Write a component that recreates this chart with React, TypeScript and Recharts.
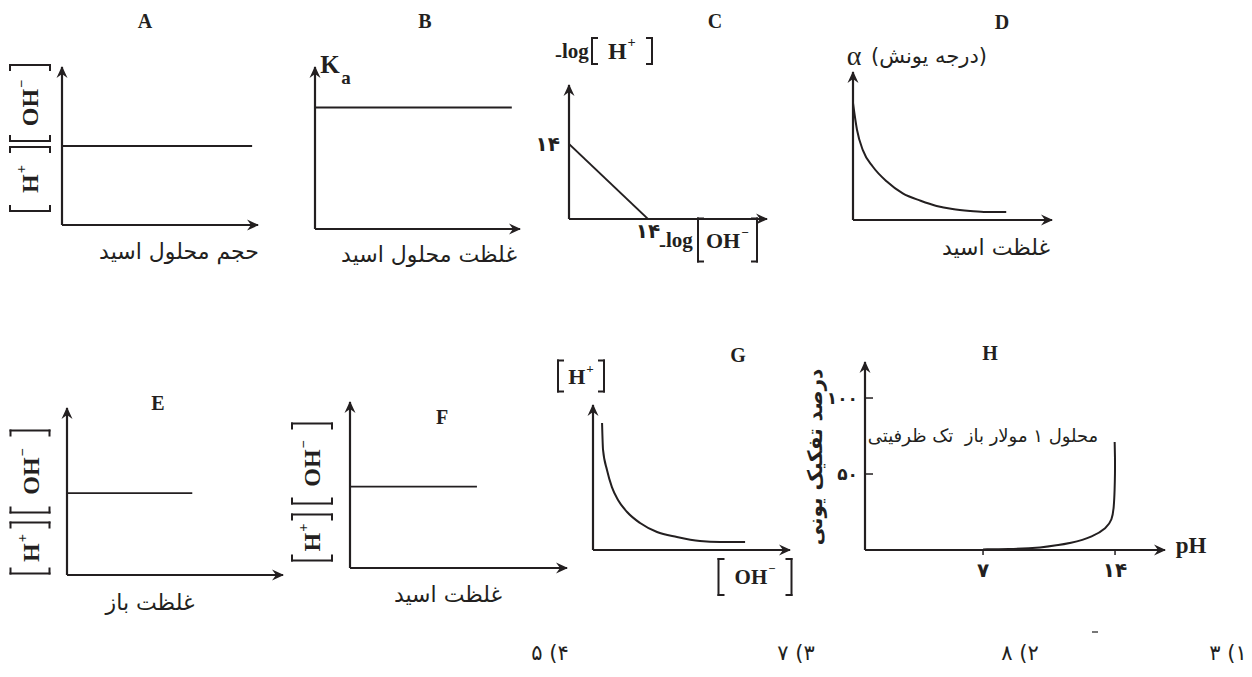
import React from 'react';
import { LineChart, Line, XAxis, YAxis, ReferenceDot } from 'recharts';

const INK = '#231f20';
const SERIF = '"Liberation Serif", "Times New Roman", serif';
const FA = '"DejaVu Sans", sans-serif';

// A: [H+][OH-] against volume of acid solution (flat)
const A_X = [0, 9.7];
const A_Y = [5, 5];
// B: Ka against acid concentration (flat)
const B_X = [0, 9.6];
const B_Y = [7.5, 7.5];
// C: -log[H+] against -log[OH-]
const C_X = [0, 14];
const C_Y = [14, 0];
const C_TICKS = [14];
const C_TICK_LABELS = ['۱۴'];
// D: degree of ionisation against acid concentration
const D_X = [0, 0.2, 0.5, 1.0, 1.7, 2.5, 3.4, 4.2, 5.0, 5.9, 6.7, 7.7];
const D_Y = [7.9, 6.1, 4.7, 3.6, 2.6, 1.8, 1.3, 0.95, 0.74, 0.61, 0.54, 0.54];
// E: [H+][OH-] against base concentration
const E_X = [0, 5.8];
const E_Y = [4.9, 4.9];
// F: [H+][OH-] against acid concentration
const F_X = [0, 5.85];
const F_Y = [4.9, 4.9];
// G: [H+] against [OH-]
const G_X = [0.46, 0.51, 0.71, 0.96, 1.27, 1.73, 2.39, 3.25, 4.26, 5.43, 6.45, 7.72];
const G_Y = [8.76, 6.9, 5.52, 4.34, 3.45, 2.62, 1.86, 1.24, 0.9, 0.62, 0.55, 0.55];
// H: ionisation percent against pH
const H_PH = [7, 8.3, 10, 11.8, 12.8, 13.55, 13.84, 13.94, 13.98, 14, 14, 13.98];
const H_PCT = [0.4, 0.5, 1.3, 4.6, 8.6, 14.5, 19.7, 28, 39.5, 50.7, 61, 71];
const H_X_TICKS = [7, 14];
const H_X_LABELS = ['۷', '۱۴'];
const H_Y_TICKS = [50, 100];
const H_Y_LABELS = ['۵۰', '۱۰۰'];

const ANSWERS = ['۴) ۵', '۳) ۷', '۲) ۸', '۱) ۳'];

const PAD = 18;
const AX = 34;

type Box = { x0: number; y0: number; x1: number; y1: number };
type TickCfg = { values: number[]; labels: string[]; size: number; margin: number; line: boolean; fontSize: number };

const ArrowRight = (p: any) => (
  <path d={`M${p.cx + 1},${p.cy} L${p.cx - 11},${p.cy - 5.5} L${p.cx - 7},${p.cy} L${p.cx - 11},${p.cy + 5.5} Z`} fill={INK} />
);
const ArrowUp = (p: any) => (
  <path d={`M${p.cx},${p.cy - 1} L${p.cx - 5.5},${p.cy + 11} L${p.cx},${p.cy + 7} L${p.cx + 5.5},${p.cy + 11} Z`} fill={INK} />
);

function Sketch({
  box, xs, ys, xDomain, yDomain, curve = 'linear', lineWidth = 1.8, xTicks, yTicks,
}: {
  box: Box; xs: number[]; ys: number[]; xDomain: [number, number]; yDomain: [number, number];
  curve?: any; lineWidth?: number; xTicks?: TickCfg; yTicks?: TickCfg;
}) {
  const w = box.x1 - box.x0 + 2 * PAD + AX;
  const h = box.y1 - box.y0 + 2 * PAD + AX;
  const data = xs.map((x, i) => ({ x, y: ys[i] }));
  const tickStyle = (t?: TickCfg) =>
    t ? { fill: INK, fontSize: t.fontSize, fontFamily: FA, fontWeight: 700 } : false;
  return (
    <div style={{ position: 'absolute', left: box.x0 - PAD - AX, top: box.y0 - PAD }}>
      <LineChart width={w} height={h} data={data} margin={{ top: PAD, right: PAD, bottom: PAD, left: PAD }}>
        <XAxis
          dataKey="x"
          type="number"
          domain={xDomain}
          allowDataOverflow
          height={AX}
          axisLine={{ stroke: INK, strokeWidth: 2.2 }}
          ticks={xTicks?.values}
          interval={0}
          tick={tickStyle(xTicks)}
          tickFormatter={(v: number) => (xTicks ? xTicks.labels[xTicks.values.indexOf(v)] : '')}
          tickLine={xTicks?.line ? { stroke: INK, strokeWidth: 1.5 } : false}
          tickSize={xTicks ? xTicks.size : 0}
          tickMargin={xTicks ? xTicks.margin : 0}
        />
        <YAxis
          type="number"
          domain={yDomain}
          allowDataOverflow
          width={AX}
          axisLine={{ stroke: INK, strokeWidth: 2.2 }}
          ticks={yTicks?.values}
          interval={0}
          tick={tickStyle(yTicks)}
          tickFormatter={(v: number) => (yTicks ? yTicks.labels[yTicks.values.indexOf(v)] : '')}
          tickLine={yTicks?.line ? { stroke: INK, strokeWidth: 1.5 } : false}
          tickSize={yTicks ? yTicks.size : 0}
          tickMargin={yTicks ? yTicks.margin : 0}
        />
        <Line
          dataKey="y"
          type={curve}
          stroke={INK}
          strokeWidth={lineWidth}
          dot={false}
          activeDot={false}
          isAnimationActive={false}
        />
        <ReferenceDot x={xDomain[1]} y={yDomain[0]} r={0} shape={ArrowRight} ifOverflow="visible" />
        <ReferenceDot x={xDomain[0]} y={yDomain[1]} r={0} shape={ArrowUp} ifOverflow="visible" />
      </LineChart>
    </div>
  );
}

function T({
  x, y, children, size = 22, font = FA, bold = false, rot = 0, rtl = false, anchor = 'center',
}: {
  x: number; y: number; children: React.ReactNode; size?: number; font?: string; bold?: boolean;
  rot?: number; rtl?: boolean; anchor?: 'center' | 'left';
}) {
  const tx = anchor === 'left' ? '0' : '-50%';
  return (
    <div
      dir={rtl ? 'rtl' : undefined}
      style={{
        position: 'absolute',
        left: x,
        top: y,
        transform: `translate(${tx},-50%)${rot ? ` rotate(${rot}deg)` : ''}`,
        fontFamily: font,
        fontSize: size,
        fontWeight: bold ? 700 : 400,
        color: INK,
        whiteSpace: 'pre',
        lineHeight: 1,
      }}
    >
      {children}
    </div>
  );
}

// concentration in tall square brackets
function Conc({ ion, sup, w, h, size }: { ion: string; sup: string; w: number; h: number; size: number }) {
  const side = (left: boolean): React.CSSProperties => ({
    width: 7,
    height: h,
    boxSizing: 'border-box',
    borderTop: `2px solid ${INK}`,
    borderBottom: `2px solid ${INK}`,
    borderLeft: left ? `2px solid ${INK}` : 'none',
    borderRight: left ? 'none' : `2px solid ${INK}`,
  });
  return (
    <span style={{ display: 'inline-flex', alignItems: 'center', justifyContent: 'space-between', width: w }}>
      <span style={side(true)} />
      <span style={{ fontFamily: SERIF, fontWeight: 700, fontSize: size, lineHeight: 1, whiteSpace: 'nowrap' }}>
        {ion}
        <span style={{ fontSize: '0.6em', position: 'relative', top: '-0.8em', marginLeft: 1 }}>{sup}</span>
      </span>
      <span style={side(false)} />
    </span>
  );
}

function Pair({ hw, ow, h, size, gap }: { hw: number; ow: number; h: number; size: number; gap: number }) {
  return (
    <span style={{ display: 'inline-flex', alignItems: 'center', gap }}>
      <Conc ion="H" sup="+" w={hw} h={h} size={size} />
      <Conc ion="OH" sup="−" w={ow} h={h} size={size} />
    </span>
  );
}

export default function App() {
  return (
    <div
      style={{
        position: 'absolute',
        left: 0,
        top: 0,
        width: 1252,
        height: 677,
        background: '#ffffff',
        overflow: 'hidden',
      }}
    >
      <Sketch box={{ x0: 62, y0: 67, x1: 258, y1: 225 }} xs={A_X} ys={A_Y} xDomain={[0, 10]} yDomain={[0, 10]} />
      <Sketch box={{ x0: 315, y0: 67, x1: 520, y1: 229 }} xs={B_X} ys={B_Y} xDomain={[0, 10]} yDomain={[0, 10]} />
      <Sketch
        box={{ x0: 569, y0: 85, x1: 767, y1: 219 }}
        xs={C_X}
        ys={C_Y}
        xDomain={[0, 35.1]}
        yDomain={[0, 25]}
        xTicks={{ values: C_TICKS, labels: C_TICK_LABELS, size: 0, margin: 5, line: false, fontSize: 20 }}
        yTicks={{ values: C_TICKS, labels: C_TICK_LABELS, size: 0, margin: 9, line: false, fontSize: 20 }}
      />
      <Sketch box={{ x0: 853, y0: 72, x1: 1052, y1: 220 }} xs={D_X} ys={D_Y} xDomain={[0, 10]} yDomain={[0, 10]} curve="monotone" lineWidth={2} />
      <Sketch box={{ x0: 67, y0: 408, x1: 283, y1: 575 }} xs={E_X} ys={E_Y} xDomain={[0, 10]} yDomain={[0, 10]} />
      <Sketch box={{ x0: 350, y0: 402, x1: 567, y1: 568 }} xs={F_X} ys={F_Y} xDomain={[0, 10]} yDomain={[0, 10]} />
      <Sketch box={{ x0: 593, y0: 405, x1: 790, y1: 550 }} xs={G_X} ys={G_Y} xDomain={[0, 10]} yDomain={[0, 10]} curve="monotone" lineWidth={2} />
      <Sketch
        box={{ x0: 865, y0: 362, x1: 1165, y1: 550 }}
        xs={H_PH}
        ys={H_PCT}
        xDomain={[0.74, 16.65]}
        yDomain={[0, 123.7]}
        curve="basis"
        lineWidth={2}
        xTicks={{ values: H_X_TICKS, labels: H_X_LABELS, size: 5, margin: 8, line: true, fontSize: 20 }}
        yTicks={{ values: H_Y_TICKS, labels: H_Y_LABELS, size: -8, margin: 15, line: true, fontSize: 17 }}
      />

      {/* panel letters */}
      <T x={145} y={21} font={SERIF} bold size={20}>A</T>
      <T x={425} y={21} font={SERIF} bold size={20}>B</T>
      <T x={715} y={21} font={SERIF} bold size={20}>C</T>
      <T x={1002} y={22} font={SERIF} bold size={20}>D</T>
      <T x={158} y={403} font={SERIF} bold size={20}>E</T>
      <T x={442} y={417} font={SERIF} bold size={20}>F</T>
      <T x={738} y={355} font={SERIF} bold size={20}>G</T>
      <T x={990} y={353} font={SERIF} bold size={20}>H</T>

      {/* A */}
      <T x={32} y={138} rot={-90}>
        <Pair hw={66} ow={78} h={42} size={24} gap={4} />
      </T>
      <T x={179} y={252} rtl>حجم محلول اسید</T>

      {/* B */}
      <T x={330} y={64} font={SERIF} bold size={25}>K</T>
      <T x={346} y={77} font={SERIF} bold size={19}>a</T>
      <T x={429} y={255} rtl>غلظت محلول اسید</T>

      {/* C */}
      <T x={555} y={51} anchor="left">
        <span style={{ display: 'inline-flex', alignItems: 'center' }}>
          <span style={{ fontFamily: SERIF, fontWeight: 700, fontSize: 21, position: 'relative', top: 3 }}>-</span>
          <span style={{ fontFamily: SERIF, fontWeight: 700, fontSize: 21, marginRight: 2 }}>log</span>
          <Conc ion="H" sup="+" w={62} h={28} size={24} />
        </span>
      </T>
      <T x={659} y={240} anchor="left">
        <span style={{ display: 'inline-flex', alignItems: 'center' }}>
          <span style={{ fontFamily: SERIF, fontWeight: 700, fontSize: 21, position: 'relative', top: 4 }}>-</span>
          <span style={{ fontFamily: SERIF, fontWeight: 700, fontSize: 21, marginRight: 4 }}>log</span>
          <Conc ion="OH" sup="−" w={61} h={45} size={22} />
        </span>
      </T>

      {/* D */}
      <T x={854} y={56} font={SERIF} size={28}>α</T>
      <T x={929} y={56} size={21} rtl>(درجه یونش)</T>
      <T x={996} y={248} rtl>غلظت اسید</T>

      {/* E */}
      <T x={32} y={502} rot={-90}>
        <Pair hw={53} ow={84} h={41} size={24} gap={8} />
      </T>
      <T x={150} y={603} rtl>غلظت باز</T>

      {/* F */}
      <T x={314} y={492} rot={-90}>
        <Pair hw={48} ow={82} h={42} size={24} gap={9} />
      </T>
      <T x={448} y={595} rtl>غلظت اسید</T>

      {/* G */}
      <T x={581} y={378}>
        <Conc ion="H" sup="+" w={48} h={33} size={22} />
      </T>
      <T x={755} y={579}>
        <Conc ion="OH" sup="−" w={75} h={38} size={21} />
      </T>

      {/* H */}
      <T x={815} y={457} rot={-90} bold size={20} rtl>درصد تفکیک یونی</T>
      <T x={983} y={436} size={18} rtl>محلول ۱ مولار باز  تک ظرفیتی</T>
      <T x={1191} y={545} font={SERIF} bold size={23}>pH</T>
      <div style={{ position: 'absolute', left: 1092, top: 631, width: 6, height: 2, background: '#777' }} />

      {/* answer choices */}
      {ANSWERS.map((a, i) => (
        <T key={a} x={[550, 796, 1020, 1228][i]} y={653} size={21} rtl>
          {a}
        </T>
      ))}
    </div>
  );
}
